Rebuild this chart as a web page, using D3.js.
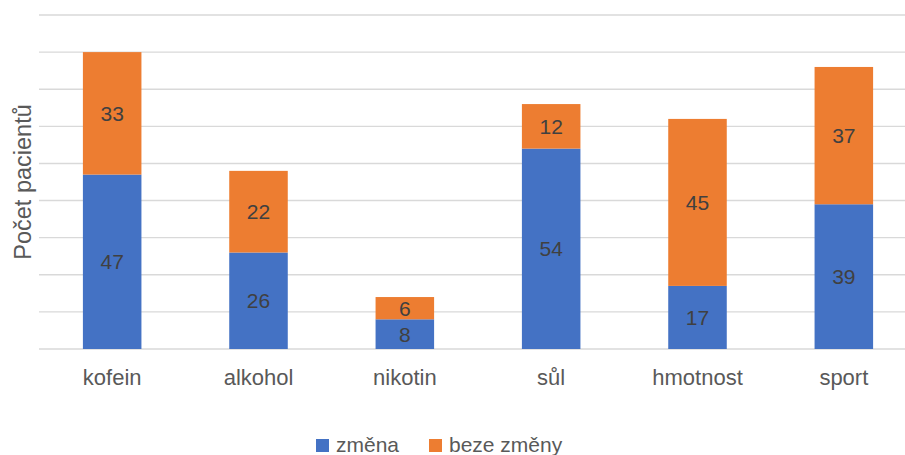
<!DOCTYPE html>
<html>
<head>
<meta charset="utf-8">
<script src="https://cdn.jsdelivr.net/npm/d3@7"></script>
<style>
  html, body { margin: 0; padding: 0; background: #fff; }
  svg { display: block; }
  text { font-family: "Liberation Sans", Arial, sans-serif; }
</style>
</head>
<body>
<svg id="chart" width="905" height="455"></svg>
<script>
// Categories and stacked series (počet pacientů)
const categories = ["kofein", "alkohol", "nikotin", "sůl", "hmotnost", "sport"];
const zmena = [47, 26, 8, 54, 17, 39];
const bezeZmeny = [33, 22, 6, 12, 45, 37];
const seriesNames = ["změna", "beze změny"];
const yTicks = [0, 10, 20, 30, 40, 50, 60, 70, 80, 90];

const colors = ["#4472C4", "#ED7D31"];
const svg = d3.select("#chart");

const plot = { left: 39, right: 917, top: 15, bottom: 349 };

const x = d3.scaleBand()
  .domain(categories)
  .range([plot.left, plot.right])
  .paddingInner(0.6)
  .paddingOuter(0.3);

const y = d3.scaleLinear()
  .domain([0, 90])
  .range([plot.bottom, plot.top]);

// Horizontal gridlines
svg.append("g")
  .selectAll("line")
  .data(yTicks)
  .join("line")
  .attr("x1", plot.left)
  .attr("x2", 905)
  .attr("y1", d => y(d))
  .attr("y2", d => y(d))
  .attr("stroke", "#d9d9d9")
  .attr("stroke-width", 1.4);

// Stack the two series
const rows = categories.map((c, i) => ({ cat: c, "změna": zmena[i], "beze změny": bezeZmeny[i] }));
const stacked = d3.stack().keys(seriesNames)(rows);

const layers = svg.append("g")
  .selectAll("g")
  .data(stacked)
  .join("g")
  .attr("fill", (d, i) => colors[i]);

layers.selectAll("rect")
  .data(d => d)
  .join("rect")
  .attr("x", d => x(d.data.cat))
  .attr("width", x.bandwidth())
  .attr("y", d => y(d[1]))
  .attr("height", d => y(d[0]) - y(d[1]));

// Value labels in the middle of each segment
layers.selectAll("text")
  .data(d => d.map(s => ({ s, key: d.key })))
  .join("text")
  .attr("x", d => x(d.s.data.cat) + x.bandwidth() / 2)
  .attr("y", d => (y(d.s[0]) + y(d.s[1])) / 2)
  .attr("text-anchor", "middle")
  .attr("dominant-baseline", "central")
  .attr("fill", "#404040")
  .attr("font-size", 21)
  .text(d => d.s.data[d.key]);

// Category axis labels
const xAxis = d3.axisBottom(x).tickSize(0).tickPadding(0);
const xg = svg.append("g")
  .attr("transform", `translate(0, ${plot.bottom})`)
  .call(xAxis);
xg.select(".domain").remove();
xg.selectAll("text")
  .attr("font-family", "Liberation Sans, Arial, sans-serif")
  .attr("font-size", 22)
  .attr("fill", "#595959")
  .attr("dy", null)
  .attr("y", 36);

// Y axis title
svg.append("text")
  .attr("transform", `translate(31, 182) rotate(-90)`)
  .attr("text-anchor", "middle")
  .attr("font-size", 23.5)
  .attr("fill", "#595959")
  .text("Počet pacientů");

// Legend
const legendItems = [
  { name: seriesNames[0], color: colors[0], x: 316 },
  { name: seriesNames[1], color: colors[1], x: 429 }
];
const lg = svg.append("g").selectAll("g")
  .data(legendItems)
  .join("g")
  .attr("transform", d => `translate(${d.x}, 439)`);
lg.append("rect")
  .attr("width", 13)
  .attr("height", 13)
  .attr("fill", d => d.color);
lg.append("text")
  .attr("x", 20)
  .attr("y", 13)
  .attr("font-size", 21)
  .attr("fill", "#595959")
  .text(d => d.name);
</script>
</body>
</html>
